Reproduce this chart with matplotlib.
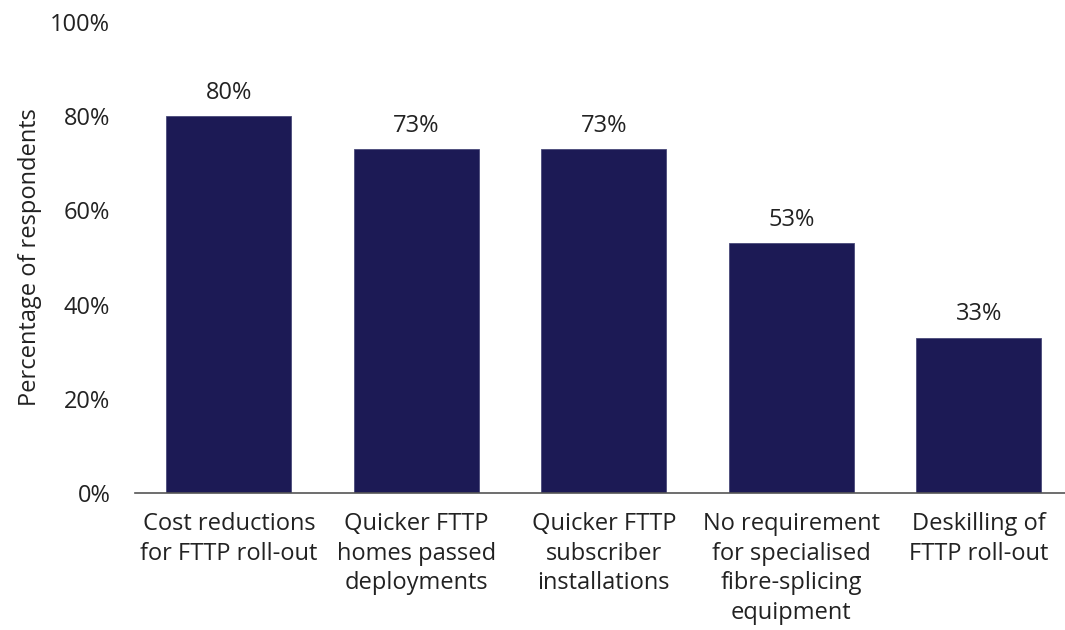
import matplotlib.pyplot as plt
import matplotlib.ticker as mtick

categories = [
    "Cost reductions\nfor FTTP roll-out",
    "Quicker FTTP\nhomes passed\ndeployments",
    "Quicker FTTP\nsubscriber\ninstallations",
    "No requirement\nfor specialised\nfibre-splicing\nequipment",
    "Deskilling of\nFTTP roll-out",
]
values = [80, 73, 73, 53, 33]

plt.rcParams['font.family'] = ['Open Sans', 'DejaVu Sans']
plt.rcParams['font.size'] = 17

fig = plt.figure(figsize=(10.65, 6.3), dpi=100)
ax = fig.add_axes([0.127, 0.2175, 0.88, 0.7476])

x = range(len(categories))
bars = ax.bar(x, values, width=0.667, color='#1c1a55', edgecolor='#4a4a7a', linewidth=0.6)

for xi, v in zip(x, values):
    ax.annotate(f'{v}%', (xi, v), textcoords='offset points', xytext=(0, 8),
                ha='center', va='bottom', color='#222222')

ax.set_xlim(-0.5, 4.5)
ax.set_ylim(0, 100)
ax.set_yticks(range(0, 101, 20))
ax.yaxis.set_major_formatter(mtick.FuncFormatter(lambda v, p: f'{int(v)}%'))
ax.set_xticks(list(x))
ax.set_xticklabels(categories, linespacing=1.3)
ax.tick_params(axis='y', length=0, pad=18, colors='#222222')
ax.tick_params(axis='x', length=0, pad=14, colors='#222222')

for s in ['top', 'right', 'left']:
    ax.spines[s].set_visible(False)
ax.spines['bottom'].set_color('#555555')
ax.spines['bottom'].set_linewidth(1.2)

ax.set_ylabel('Percentage of respondents', color='#222222')
ax.yaxis.set_label_coords(-0.1, 0.5)

fig.savefig('out.png', dpi=100)
